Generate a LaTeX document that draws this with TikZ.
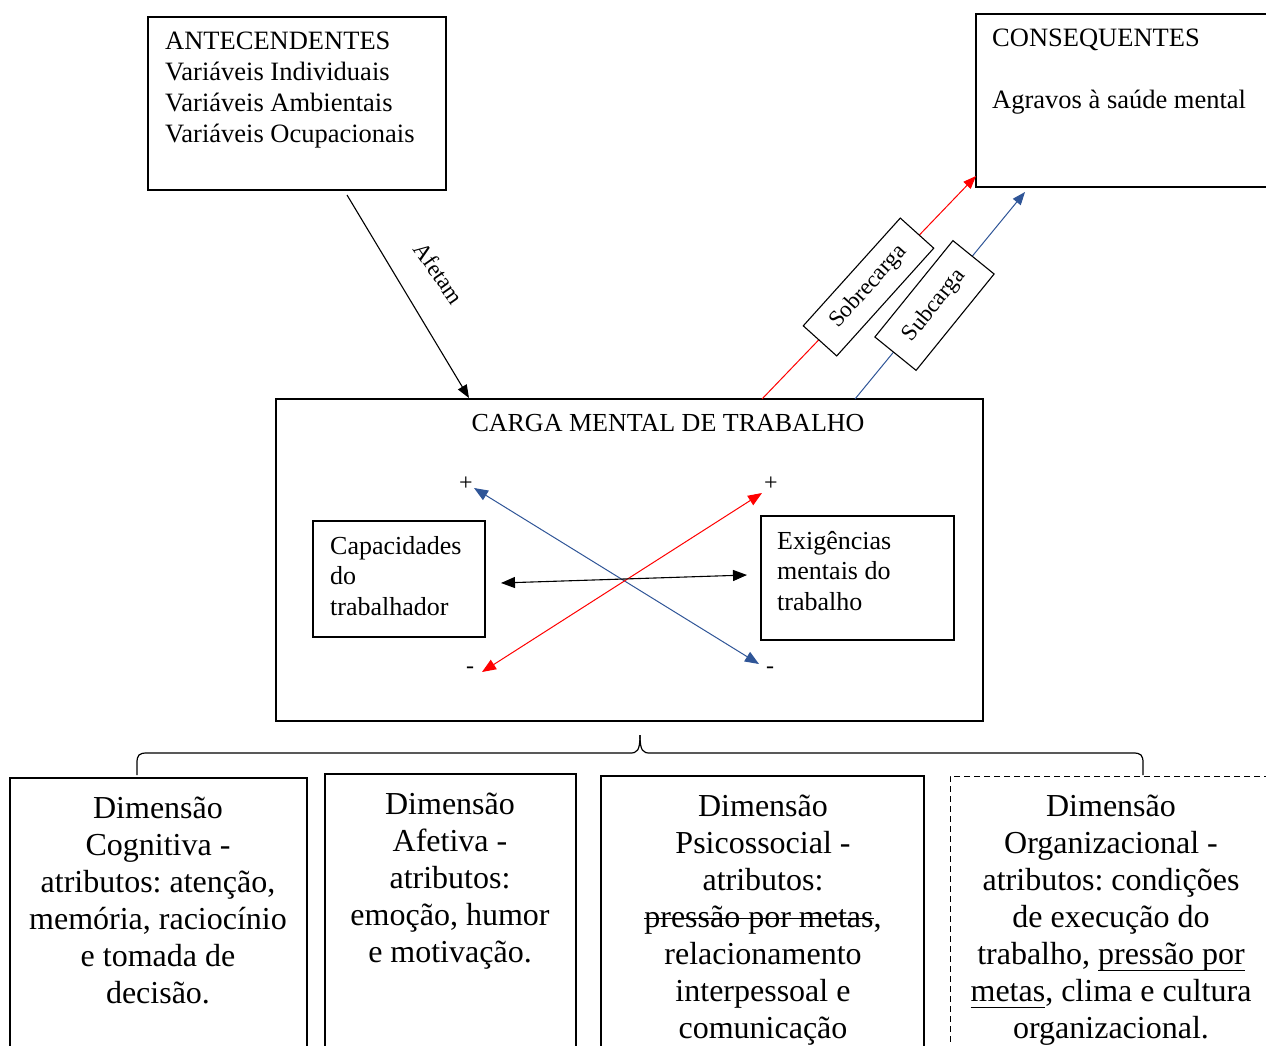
\documentclass[tikz,border=0pt]{standalone}
\usepackage{fontspec}
\setmainfont{Liberation Serif}
\usetikzlibrary{arrows.meta}
\definecolor{myblue}{RGB}{47,85,151}
\definecolor{myred}{RGB}{255,0,0}
\newcommand\mysout[1]{\leavevmode\setbox0\hbox{#1}\rlap{\raisebox{0.26em}{\rule{\wd0}{1.3pt}}}\box0}
\newcommand\myuline[1]{\leavevmode\setbox0\hbox{#1}\rlap{\raisebox{-0.2em}{\rule{\wd0}{1.3pt}}}\box0}
\frenchspacing
\begin{document}
\begin{tikzpicture}[x=1pt,y=-1pt,
  box/.style={draw,line width=1.1pt,inner sep=0pt,outer sep=0pt,anchor=north west},
  dimbox/.style={box,minimum height=320pt},
  toptxt/.style={inner sep=0pt,anchor=north west,align=left,font=\fontsize{26.5}{31}\selectfont},
  midtxt/.style={inner sep=0pt,anchor=north west,align=left,font=\fontsize{26}{30.5}\selectfont},
  dimtxt/.style={inner sep=0pt,anchor=north,align=center,font=\fontsize{32}{37}\selectfont},
  rotbox/.style={draw,line width=1.1pt,fill=white,inner sep=0pt,font=\fontsize{23}{26}\selectfont},
  sign/.style={inner sep=0pt,font=\fontsize{24}{26}\selectfont},
  tip/.style={-{Triangle[length=13pt,width=10pt]}},
  dtip/.style={{Triangle[length=14pt,width=11pt]}-{Triangle[length=14pt,width=11pt]}},
  conn/.style={line width=1.1pt}
]
\useasboundingbox (0,0) rectangle (1266,1046);
\clip (0,0) rectangle (1266,1046);

% top boxes
\node[box,minimum width=298pt,minimum height=173pt] (ante) at (148,17) {};
\node[toptxt] (antetxt) at (165,32) {ANTECENDENTES\\Variáveis Individuais\\Variáveis Ambientais\\Variáveis Ocupacionais};

\node[box,minimum width=320pt,minimum height=173pt] (conseq) at (976,14) {};
\node[toptxt] (conseqtxt) at (992,29) {CONSEQUENTES\\[31pt]Agravos à saúde mental};

% central box
\node[box,minimum width=707pt,minimum height=322pt] (carga) at (276,399) {};
\node[inner sep=0pt,font=\fontsize{26}{31}\selectfont] (cargatxt) at (668,423) {CARGA MENTAL DE TRABALHO};

\node[box,minimum width=172pt,minimum height=116pt] (cap) at (313,521) {};
\node[midtxt] (captxt) at (330,536) {Capacidades\\do\\trabalhador};

\node[box,minimum width=193pt,minimum height=124pt] (exig) at (761,516) {};
\node[midtxt] (exigtxt) at (777,531) {Exigências\\mentais do\\trabalho};

% inner arrows
\coordinate (bA) at (474,488); \coordinate (bB) at (759,664);
\coordinate (rA) at (482,672); \coordinate (rB) at (762,493);
\coordinate (kA) at (501,583); \coordinate (kB) at (747,575);
\draw[conn,myblue,line width=1pt,dtip] (bA) -- (bB);
\draw[conn,myred,line width=1pt,dtip] (rA) -- (rB);
\draw[conn,black,dtip] (kA) -- (kB);
\node[sign] (p1) at (466,484) {+};
\node[sign] (p2) at (771,484) {+};
\node[sign] (m1) at (470,670) {-};
\node[sign] (m2) at (770,670) {-};

% Afetam
\coordinate (afA) at (347,195);
\coordinate (afB) at (469,398);
\draw[conn,tip] (afA) -- (afB);
\node[inner sep=0pt,rotate=-55,font=\fontsize{23}{26}\selectfont] (afetam) at (439,273) {Afetam};

% lines to consequentes
\coordinate (sA) at (762,399); \coordinate (sB) at (976,176);
\coordinate (uA) at (855,399); \coordinate (uB) at (1025,192);
\draw[conn,myred,line width=1pt,tip] (sA) -- (sB);
\draw[conn,myblue,line width=1pt,tip] (uA) -- (uB);
\node[rotbox,rotate=48,minimum width=145pt,minimum height=45pt] (sobre) at (868.5,287) {Sobrecarga};
\node[rotbox,rotate=51,minimum width=124pt,minimum height=53pt] (sub) at (934.5,305.5) {Subcarga};

% brace
\coordinate (brL) at (137,775);
\coordinate (brM) at (640,735);
\coordinate (brR) at (1143,775);
\draw[line width=1.2pt] (brL) -- (137,763) .. controls (137,755) and (139,753) .. (147,753) -- (630,753) .. controls (637,753) and (640,751) .. (brM);
\draw[line width=1.2pt] (brM) .. controls (640,751) and (643,753) .. (650,753) -- (1133,753) .. controls (1141,753) and (1143,755) .. (1143,763) -- (brR);

% dimension boxes
\node[dimbox,minimum width=297pt] (d1) at (10,778) {};
\node[dimtxt] (d1txt) at (158,797) {Dimensão\\Cognitiva -\\atributos: atenção,\\memória, raciocínio\\e tomada de\\decisão.};

\node[dimbox,minimum width=251pt] (d2) at (325,774) {};
\node[dimtxt] (d2txt) at (450,793) {Dimensão\\Afetiva -\\atributos:\\emoção, humor\\e motivação.};

\node[dimbox,minimum width=323pt] (d3) at (601,776) {};
\node[dimtxt] (d3txt) at (763,795) {Dimensão\\Psicossocial -\\atributos:\\\mysout{pressão por metas},\\relacionamento\\interpessoal e\\comunicação};

\node[dimbox,minimum width=340pt,dash pattern=on 6pt off 4pt,line width=1pt] (d4) at (950,776) {};
\node[dimtxt] (d4txt) at (1111,795) {Dimensão\\Organizacional -\\atributos: condições\\de execução do\\trabalho, \myuline{pressão por}\\\myuline{metas}, clima e cultura\\organizacional.};
\end{tikzpicture}
\end{document}
